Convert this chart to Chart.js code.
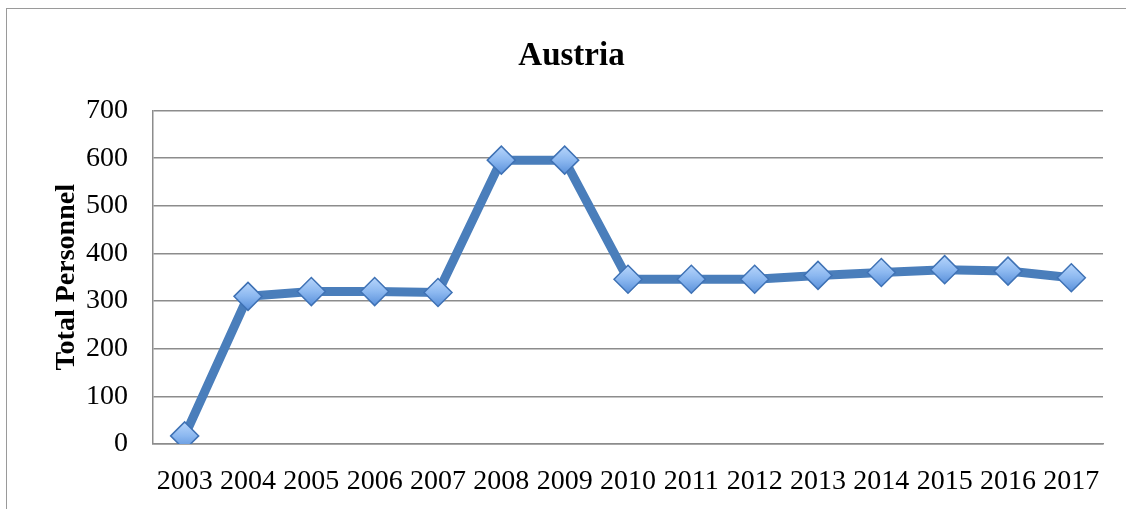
<!DOCTYPE html>
<html>
<head>
<meta charset="utf-8">
<script src="https://cdn.jsdelivr.net/npm/chart.js@4.4.1/dist/chart.umd.min.js"></script>
<style>
  html, body { margin: 0; padding: 0; background: #fff; overflow: hidden; }
  #frame { position: absolute; left: 6px; top: 8px; width: 1200px; height: 530px; border-left: 1.5px solid #9a9a9a; border-top: 1.5px solid #9a9a9a; }
  #wrap { position: absolute; left: 0; top: 0; width: 1126px; height: 509px; }
</style>
</head>
<body>
<div id="frame"></div>
<div id="wrap"><canvas id="austriaChart" width="1126" height="509"></canvas></div>
<script>
// chart data
const years = ['2003', '2004', '2005', '2006', '2007', '2008', '2009', '2010',
               '2011', '2012', '2013', '2014', '2015', '2016', '2017'];
const personnel = [17, 310, 320, 320, 318, 596, 596, 346, 346, 346, 354, 360, 366, 363, 349];
const yTicks = [0, 100, 200, 300, 400, 500, 600, 700];

const serif = '"Liberation Serif", "Times New Roman", serif';

// light-blue diamond fill, darker at the bottom
function diamondFill(c) {
    const chart = c.chart;
    const y = chart.scales.y ? chart.scales.y.getPixelForValue(c.raw) : 0;
    if (!isFinite(y)) return '#7fb0ec';
    const g = chart.ctx.createLinearGradient(0, y - 13, 0, y + 13);
    g.addColorStop(0, '#b4d3fa');
    g.addColorStop(0.5, '#8cb8f0');
    g.addColorStop(1, '#5d93dc');
    return g;
}

document.addEventListener('DOMContentLoaded', () => {
    const ctx = document.getElementById('austriaChart').getContext('2d');
    new Chart(ctx, {
        type: 'line',
        data: {
            labels: years,
            datasets: [{
                label: 'Austria',
                data: personnel,
                borderColor: '#4a7ebb',
                borderWidth: 9,
                tension: 0,
                pointStyle: 'rectRot',
                pointRadius: 14,
                pointBorderWidth: 1.5,
                pointBorderColor: '#3f72b5',
                pointBackgroundColor: diamondFill,
                fill: false
            }]
        },
        options: {
            responsive: false,
            animation: false,
            layout: { padding: { left: 40, right: 23, top: 0, bottom: 0 } },
            plugins: {
                legend: { display: false },
                tooltip: { enabled: false },
                title: {
                    display: true,
                    text: 'Austria',
                    color: '#000',
                    font: { family: serif, size: 33, weight: 'bold' },
                    padding: { top: 37, bottom: 34 }
                }
            },
            scales: {
                x: {
                    offset: true,
                    grid: { display: false, drawTicks: false },
                    border: { display: true, color: '#8c8c8c', width: 1.5 },
                    ticks: {
                        color: '#000',
                        padding: 21,
                        maxRotation: 0,
                        autoSkip: false,
                        font: { family: serif, size: 28 }
                    },
                    afterFit: s => { s.height = 65; }
                },
                y: {
                    min: 0,
                    max: 700,
                    afterBuildTicks: s => { s.ticks = yTicks.map(v => ({ value: v })); },
                    grid: { color: '#8c8c8c', lineWidth: 1.5, drawTicks: false },
                    border: { display: true, color: '#8c8c8c', width: 1.5 },
                    ticks: {
                        color: '#000',
                        padding: 25,
                        font: { family: serif, size: 28 }
                    },
                    title: {
                        display: true,
                        text: 'Total Personnel',
                        color: '#000',
                        padding: { top: 10, bottom: 0 },
                        font: { family: serif, size: 28, weight: 'bold' }
                    },
                    afterFit: s => { s.width = 113; }
                }
            }
        }
    });
});
</script>
</body>
</html>
